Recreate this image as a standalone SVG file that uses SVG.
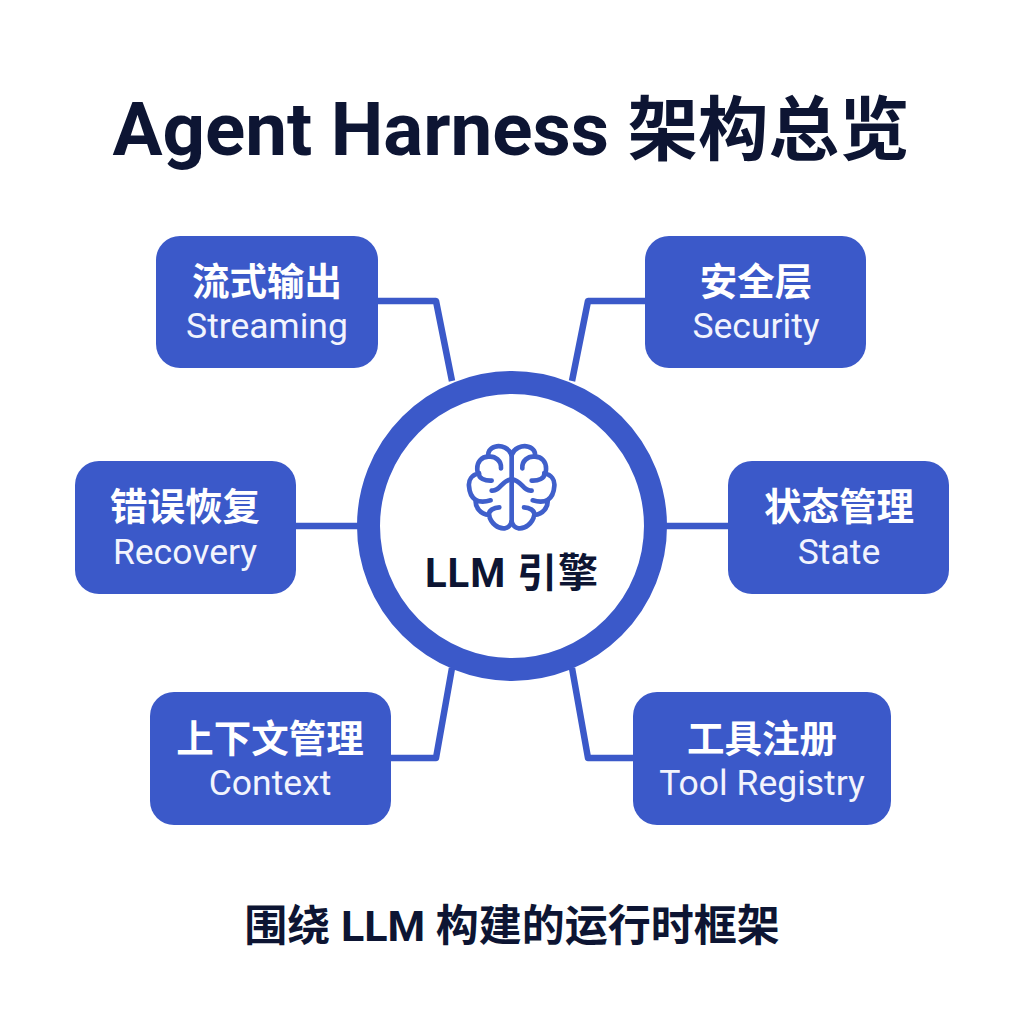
<svg xmlns="http://www.w3.org/2000/svg" width="1024" height="1024" viewBox="0 0 1024 1024">
<style>
.n{fill:#3b59c9}
.c{fill:none;stroke:#3b59c9;stroke-width:6.5;stroke-linejoin:round}
.zh{font-family:"Noto Sans CJK SC","Noto Sans",sans-serif;font-weight:700;font-size:37.5px;fill:#fff;text-anchor:middle}
.en{font-family:Roboto,"Noto Sans",sans-serif;font-size:35.5px;fill:#f2f4fd;text-anchor:middle}
.t{font-family:Roboto,"Noto Sans CJK SC",sans-serif;font-weight:700;fill:#0d1533;text-anchor:middle}
.b{fill:none;stroke:#3f5fcb;stroke-width:14;stroke-linecap:round;stroke-linejoin:round}
</style>
<defs>
<g id="half">
<path d="M275 105C268 85 245 75 225 80C208 85 203 98 205 110C185 110 170 125 172 150C172 155 175 160 177 160C155 165 145 180 147 198C148 215 155 232 167 240C165 260 180 283 207 285C212 310 235 328 255 325C265 323 272 315 275 305"/>
<path d="M207 110C225 108 245 122 243 145"/>
<path d="M177 160C175 175 195 183 215 182"/>
<path d="M167 240C180 247 198 245 212 241"/>
<path d="M207 285C205 272 222 262 238 262"/>
<path d="M215 212C240 215 245 180 275 178"/>
</g>
</defs>
<rect width="1024" height="1024" fill="#fff"/>
<text id="title" class="t" x="511" y="155" font-size="74.5">Agent Harness <tspan font-size="70.5">架构总览</tspan></text>
<g id="connectors">
<path class="c" d="M378 301H436L452 381"/>
<path class="c" d="M645 301H588L572 381"/>
<path class="c" d="M296 526H360"/>
<path class="c" d="M728 526H664"/>
<path class="c" d="M391 758H436L452 668"/>
<path class="c" d="M633 758H588L572 668"/>
</g>
<g id="llm">
<circle cx="512" cy="526" r="143.5" fill="#fff" stroke="#3b59c9" stroke-width="23"/>
<g class="b" transform="translate(420 420) scale(.3333)">
<use href="#half"/>
<use href="#half" transform="matrix(-1 0 0 1 550 0)"/>
<path d="M275 105V305"/>
</g>
<text class="t" x="512" y="587" font-size="40" style="letter-spacing:1px">LLM 引擎</text>
</g>
<g id="streaming"><rect class="n" x="156" y="236" width="222" height="132" rx="24"/><text class="zh" x="267" y="295">流式输出</text><text class="en" x="267" y="338">Streaming</text></g>
<g id="security"><rect class="n" x="645" y="236" width="221" height="132" rx="24"/><text class="zh" x="756" y="295">安全层</text><text class="en" x="756" y="338">Security</text></g>
<g id="recovery"><rect class="n" x="75" y="461" width="221" height="133" rx="24"/><text class="zh" x="185" y="520">错误恢复</text><text class="en" x="185" y="564">Recovery</text></g>
<g id="state"><rect class="n" x="728" y="461" width="221" height="133" rx="24"/><text class="zh" x="839" y="520">状态管理</text><text class="en" x="839" y="564">State</text></g>
<g id="context"><rect class="n" x="150" y="692" width="241" height="133" rx="24"/><text class="zh" x="270" y="752">上下文管理</text><text class="en" x="270" y="795">Context</text></g>
<g id="tool"><rect class="n" x="633" y="692" width="258" height="133" rx="24"/><text class="zh" x="762" y="752">工具注册</text><text class="en" x="762" y="795">Tool Registry</text></g>
<text id="subtitle" class="t" x="512" y="941" font-size="43">围绕 LLM 构建的运行时框架</text>
</svg>
